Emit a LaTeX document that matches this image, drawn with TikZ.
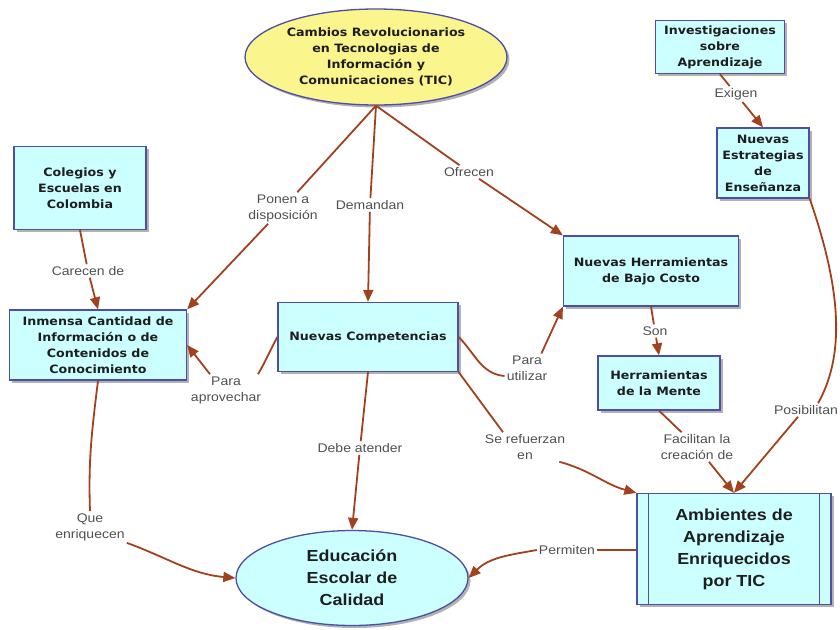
\documentclass[tikz,border=0pt]{standalone}
\usepackage{fontspec}
\usetikzlibrary{shapes.geometric,arrows.meta,shadows}
\newfontfamily\nodefont[FakeStretch=1.1]{DejaVu Sans}
\newfontfamily\bigfont[FakeStretch=1.12]{Liberation Sans}
\newfontfamily\labfont[FakeStretch=1.12]{Liberation Sans}
\definecolor{boxfill}{HTML}{CCFFFF}
\definecolor{ellfill}{HTML}{FAF58C}
\definecolor{bordercol}{HTML}{4D4DAA}
\definecolor{arrowcol}{HTML}{A3401E}
\definecolor{labcol}{HTML}{505050}
\definecolor{txtcol}{HTML}{1E1E1E}
\tikzset{
  x=1pt,y=-1pt,
  shad/.style={drop shadow={shadow xshift=2.5pt,shadow yshift=-2.5pt,fill=black!55,opacity=0.55}},
  concept/.style={draw=bordercol,line width=1.3pt,fill=boxfill,shad,align=center,inner sep=2pt,
    text=txtcol,font=\nodefont\bfseries\fontsize{11.5}{16}\selectfont},
  ell/.style={concept,ellipse},
  big/.style={font=\bigfont\bfseries\fontsize{16}{22}\selectfont},
  lab/.style={align=center,text=labcol,inner sep=2pt,font=\labfont\fontsize{12.5}{16}\selectfont},
  link/.style={draw=arrowcol,line width=1.8pt},
  arr/.style={link,-{Triangle[length=12pt,width=10pt]}},
}
\begin{document}
\begin{tikzpicture}
\useasboundingbox (0,0) rectangle (840,629);
% nodes
\node[ell,fill=ellfill,minimum width=262,minimum height=96] (tic) at (376,57)
  {Cambios Revolucionarios\\en Tecnologias de\\Información y\\Comunicaciones (TIC)};
\node[concept,minimum width=132,minimum height=83] (col) at (80,188) {Colegios y\\Escuelas en\\Colombia};
\node[concept,minimum width=177,minimum height=70] (inm) at (98,345)
  {Inmensa Cantidad de\\Información o de\\Contenidos de\\Conocimiento};
\node[concept,minimum width=180,minimum height=69] (comp) at (368,337) {Nuevas Competencias};
\node[concept,minimum width=175,minimum height=70] (herr) at (651,271) {Nuevas Herramientas\\de Bajo Costo};
\node[concept,minimum width=129,minimum height=53] (inv) at (720,47) {Investigaciones\\sobre\\Aprendizaje};
\node[concept,minimum width=92,minimum height=70] (estr) at (763,163) {Nuevas\\Estrategias\\de\\Enseñanza};
\node[concept,minimum width=122,minimum height=54] (mente) at (659,383) {Herramientas\\de la Mente};
\node[concept,big,minimum width=194,minimum height=111] (amb) at (734,549)
  {Ambientes de\\Aprendizaje\\Enriquecidos\\por TIC};
\draw[bordercol,line width=1.3pt] ([xshift=12pt]amb.north west) -- ([xshift=12pt]amb.south west)
  ([xshift=-12pt]amb.north east) -- ([xshift=-12pt]amb.south east);
\node[ell,big,minimum width=232,minimum height=95] (edu) at (352,578) {Educación\\Escolar de\\Calidad};
% labels
\node[lab] (l1) at (283,208) {Ponen a\\disposición};
\node[lab] (l2) at (370,205) {Demandan};
\node[lab] (l3) at (469,172) {Ofrecen};
\node[lab] (l4) at (88,271) {Carecen de};
\node[lab] (l5) at (226,390) {Para\\aprovechar};
\node[lab] (l6) at (527,368) {Para\\utilizar};
\node[lab] (l7) at (655,331) {Son};
\node[lab] (l8) at (736,94) {Exigen};
\node[lab] (l9) at (806,410) {Posibilitan};
\node[lab] (l10) at (697,447) {Facilitan la\\creación de};
\node[lab] (l11) at (525,447) {Se refuerzan\\en};
\node[lab] (l12) at (360,448) {Debe atender};
\node[lab] (l13) at (90,527) {Que\\enriquecen};
\node[lab] (l14) at (567,550) {Permiten};
% connectors
\draw[link] (tic.south) -- (l1);
\draw[arr] (l1) -- (inm.north east);
\draw[link] (tic.south) -- (l2);
\draw[arr] (l2) -- (comp.north);
\draw[link] (tic.south) -- (l3);
\draw[arr] (l3) -- (herr.north west);
\draw[link] (col.south) -- (l4);
\draw[arr] (l4) -- (inm.north);
\draw[link] (comp.west) to[out=-118,in=60] ([xshift=32pt]l5.north);
\draw[arr] ([xshift=-16pt]l5.north) -- (inm.east);
\draw[link] (comp.east) to[out=-45,in=175] ([yshift=-8pt]l6.west);
\draw[arr] ([xshift=-8pt]l6.north east) -- (herr.south west);
\draw[link] (herr.south) -- (l7);
\draw[arr] (l7) -- (mente.north);
\draw[link] (inv.south) -- (l8);
\draw[arr] (l8) -- (estr.north);
\draw[link] (estr.south east) .. controls (845,300) and (842,360) .. ([xshift=-22pt]l9.north east);
\draw[arr] ([xshift=-8pt]l9.south) -- (amb.north);
\draw[link] (mente.south) -- (l10);
\draw[arr] (l10) -- (amb.north);
\draw[link] (comp.south east) -- ([xshift=-22pt]l11.north);
\draw[arr] ([xshift=-8pt]l11.south east) to[out=-15,in=165] (amb.north west);
\draw[link] (comp.south) -- (l12);
\draw[arr] (l12) -- (edu.north);
\draw[link] (inm.south) to[out=-97,in=92] (l13.north);
\draw[arr] (l13.south east) to[out=-20,in=175] (edu.west);
\draw[link] (amb.west |- l14) -- (l14);
\draw[arr] (l14.west) to[out=190,in=45] (edu.east);
\end{tikzpicture}
\end{document}
